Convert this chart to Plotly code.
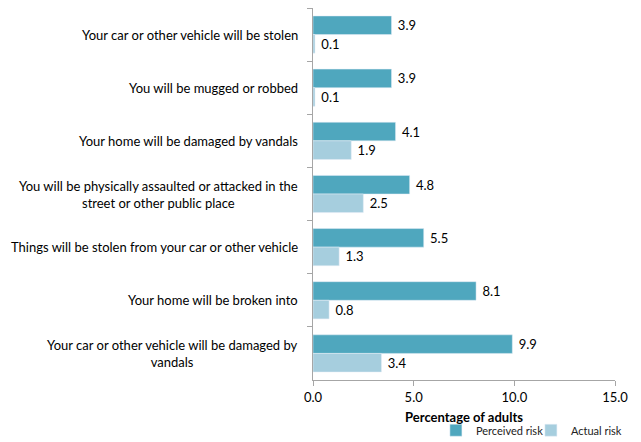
import plotly.graph_objects as go

# categories, top to bottom as in the chart
categories = [
    "Your car or other vehicle will be stolen",
    "You will be mugged or robbed",
    "Your home will be damaged by vandals",
    "You will be physically assaulted or attacked in the<br>street or other public place",
    "Things will be stolen from your car or other vehicle",
    "Your home will be broken into",
    "Your car or other vehicle will be damaged by<br>vandals",
]
perceived_risk = [3.9, 3.9, 4.1, 4.8, 5.5, 8.1, 9.9]
actual_risk = [0.1, 0.1, 1.9, 2.5, 1.3, 0.8, 3.4]
x_ticks = [0, 5, 10, 15]

font_name = "Lato, Open Sans, sans-serif"
label_fmt = "\u00a0%{x:.1f}"

fig = go.Figure()
fig.add_trace(go.Bar(
    y=categories, x=perceived_risk, orientation="h", name="Perceived risk",
    marker=dict(color="#4FA7BE"),
    texttemplate=label_fmt, textposition="outside", cliponaxis=False,
    textfont=dict(size=13, color="black"),
))
fig.add_trace(go.Bar(
    y=categories, x=actual_risk, orientation="h", name="Actual risk",
    marker=dict(color="#A6CEDE"),
    texttemplate=label_fmt, textposition="outside", cliponaxis=False,
    textfont=dict(size=13, color="black"),
))

# category labels as annotations so two-line labels stay centred
for cat in categories:
    fig.add_annotation(
        x=-0.043, xref="paper", y=cat, yref="y", text=cat,
        showarrow=False, xanchor="right", yanchor="middle", align="center",
        font=dict(size=13, color="black", family=font_name),
    )

# page body has an 8px default margin, so the margins are shifted by that
fig.update_layout(
    width=641, height=442,
    barmode="group", bargap=0.3, bargroupgap=0,
    plot_bgcolor="white", paper_bgcolor="white",
    font=dict(family=font_name, color="black"),
    margin=dict(l=305, r=34, t=0, b=70),
    showlegend=True,
    legend=dict(
        orientation="h", x=0.407, y=-0.135, xanchor="left", yanchor="middle",
        font=dict(size=11, color="#222"), itemwidth=30,
        entrywidth=50, entrywidthmode="pixels",
        bgcolor="rgba(0,0,0,0)",
    ),
)
fig.update_xaxes(
    range=[0, 15], tickvals=x_ticks, tickformat=".1f",
    showgrid=False, zeroline=False,
    showline=True, linecolor="#A6A6A6", linewidth=1,
    ticks="outside", ticklen=5, tickcolor="#A6A6A6",
    tickfont=dict(size=13, color="black"),
    title=dict(text="<b>Percentage of adults</b>", font=dict(size=13, color="black"), standoff=9),
)
fig.update_yaxes(
    autorange="reversed", showticklabels=False,
    showgrid=False, zeroline=False,
    showline=True, linecolor="#A6A6A6", linewidth=1,
    ticks="outside", ticklen=5, tickcolor="#A6A6A6", tickson="boundaries",
)

fig.write_html("out.html")
